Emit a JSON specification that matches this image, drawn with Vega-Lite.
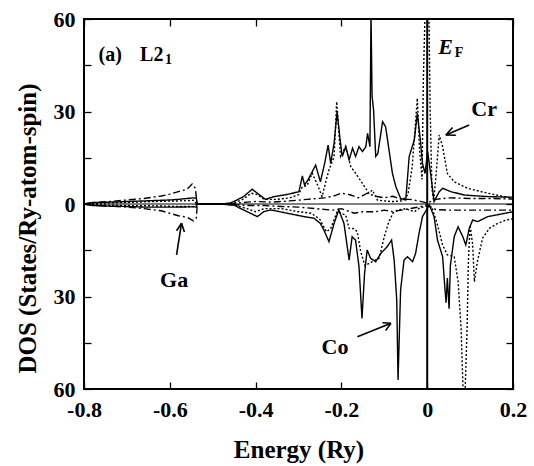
{
  "$schema": "https://vega.github.io/schema/vega-lite/v6.json",
  "width": 429,
  "height": 370,
  "autosize": "none",
  "padding": {"left": 84, "top": 19, "right": 21, "bottom": 77},
  "background": "white",
  "config": {
    "view": {"stroke": "black", "strokeWidth": 2},
    "font": "Liberation Serif",
    "axis": {
      "grid": false, "domain": false, "tickColor": "black", "tickWidth": 1.3,
      "labelFont": "Liberation Serif", "labelFontWeight": "bold", "labelColor": "black",
      "titleFont": "Liberation Serif", "titleFontWeight": "bold", "titleColor": "black",
      "labelFlush": false, "labelOverlap": false
    }
  },
  "datasets": {
    "dos": [
      {"e":"Co","s":"up","x":-0.8,"y":0},{"e":"Co","s":"up","x":-0.78,"y":0.5},{"e":"Co","s":"up","x":-0.74,"y":0.6},{"e":"Co","s":"up","x":-0.7,"y":0.8},{"e":"Co","s":"up","x":-0.66,"y":1.0},{"e":"Co","s":"up","x":-0.62,"y":1.2},{"e":"Co","s":"up","x":-0.6,"y":1.3},{"e":"Co","s":"up","x":-0.58,"y":1.5},{"e":"Co","s":"up","x":-0.56,"y":1.8},{"e":"Co","s":"up","x":-0.545,"y":2.0},{"e":"Co","s":"up","x":-0.538,"y":1.8},{"e":"Co","s":"up","x":-0.536,"y":0},{"e":"Co","s":"up","x":-0.48,"y":0},
      {"e":"Co","s":"up","x":-0.46,"y":0.3},{"e":"Co","s":"up","x":-0.451,"y":0.8},{"e":"Co","s":"up","x":-0.428,"y":2.4},{"e":"Co","s":"up","x":-0.408,"y":4.8},{"e":"Co","s":"up","x":-0.396,"y":3.5},{"e":"Co","s":"up","x":-0.377,"y":1.5},{"e":"Co","s":"up","x":-0.357,"y":2.4},{"e":"Co","s":"up","x":-0.326,"y":3.1},{"e":"Co","s":"up","x":-0.299,"y":4.0},{"e":"Co","s":"up","x":-0.291,"y":9.1},{"e":"Co","s":"up","x":-0.286,"y":6.2},{"e":"Co","s":"up","x":-0.278,"y":7.8},{"e":"Co","s":"up","x":-0.26,"y":12.6},{"e":"Co","s":"up","x":-0.249,"y":7.2},{"e":"Co","s":"up","x":-0.239,"y":13.2},{"e":"Co","s":"up","x":-0.231,"y":19.1},{"e":"Co","s":"up","x":-0.225,"y":13.2},{"e":"Co","s":"up","x":-0.217,"y":19.7},{"e":"Co","s":"up","x":-0.21,"y":29.9},{"e":"Co","s":"up","x":-0.203,"y":20.8},{"e":"Co","s":"up","x":-0.198,"y":15.4},{"e":"Co","s":"up","x":-0.19,"y":18.6},{"e":"Co","s":"up","x":-0.182,"y":14.3},{"e":"Co","s":"up","x":-0.174,"y":18.1},{"e":"Co","s":"up","x":-0.167,"y":15.4},{"e":"Co","s":"up","x":-0.159,"y":18.6},{"e":"Co","s":"up","x":-0.151,"y":17.0},{"e":"Co","s":"up","x":-0.143,"y":18.6},{"e":"Co","s":"up","x":-0.139,"y":22.9},{"e":"Co","s":"up","x":-0.1335,"y":18.6},{"e":"Co","s":"up","x":-0.131,"y":62},{"e":"Co","s":"up","x":-0.1285,"y":35},{"e":"Co","s":"up","x":-0.125,"y":30.5},{"e":"Co","s":"up","x":-0.12,"y":15.4},{"e":"Co","s":"up","x":-0.115,"y":16.4},{"e":"Co","s":"up","x":-0.104,"y":26.7},{"e":"Co","s":"up","x":-0.097,"y":25.1},{"e":"Co","s":"up","x":-0.089,"y":17.5},{"e":"Co","s":"up","x":-0.081,"y":9.9},{"e":"Co","s":"up","x":-0.073,"y":5.6},{"e":"Co","s":"up","x":-0.062,"y":1.8},{"e":"Co","s":"up","x":-0.05,"y":1.3},{"e":"Co","s":"up","x":-0.042,"y":15.4},{"e":"Co","s":"up","x":-0.03,"y":20.8},{"e":"Co","s":"up","x":-0.023,"y":29.4},{"e":"Co","s":"up","x":-0.016,"y":20.8},{"e":"Co","s":"up","x":-0.011,"y":13.2},{"e":"Co","s":"up","x":-0.005,"y":9.9},{"e":"Co","s":"up","x":0.001,"y":17.0},{"e":"Co","s":"up","x":0.008,"y":9.9},{"e":"Co","s":"up","x":0.016,"y":0.8},{"e":"Co","s":"up","x":0.028,"y":4.0},{"e":"Co","s":"up","x":0.036,"y":5.1},{"e":"Co","s":"up","x":0.055,"y":4.0},{"e":"Co","s":"up","x":0.087,"y":2.9},{"e":"Co","s":"up","x":0.141,"y":2.4},{"e":"Co","s":"up","x":0.2,"y":2.2},

      {"e":"Cr","s":"up","x":-0.8,"y":0},{"e":"Cr","s":"up","x":-0.76,"y":0.3},{"e":"Cr","s":"up","x":-0.7,"y":0.5},{"e":"Cr","s":"up","x":-0.64,"y":0.8},{"e":"Cr","s":"up","x":-0.58,"y":1.0},{"e":"Cr","s":"up","x":-0.545,"y":1.2},{"e":"Cr","s":"up","x":-0.537,"y":0},{"e":"Cr","s":"up","x":-0.48,"y":0},{"e":"Cr","s":"up","x":-0.45,"y":0.3},{"e":"Cr","s":"up","x":-0.43,"y":1.5},{"e":"Cr","s":"up","x":-0.41,"y":3.5},{"e":"Cr","s":"up","x":-0.395,"y":3.0},{"e":"Cr","s":"up","x":-0.38,"y":1.5},{"e":"Cr","s":"up","x":-0.35,"y":1.5},{"e":"Cr","s":"up","x":-0.32,"y":2.0},{"e":"Cr","s":"up","x":-0.3,"y":3.0},{"e":"Cr","s":"up","x":-0.291,"y":5.6},{"e":"Cr","s":"up","x":-0.28,"y":6},{"e":"Cr","s":"up","x":-0.268,"y":10},{"e":"Cr","s":"up","x":-0.255,"y":6},{"e":"Cr","s":"up","x":-0.245,"y":2.4},{"e":"Cr","s":"up","x":-0.235,"y":8},{"e":"Cr","s":"up","x":-0.229,"y":11},{"e":"Cr","s":"up","x":-0.217,"y":15.4},{"e":"Cr","s":"up","x":-0.211,"y":33.2},{"e":"Cr","s":"up","x":-0.202,"y":15.4},{"e":"Cr","s":"up","x":-0.19,"y":18.6},{"e":"Cr","s":"up","x":-0.178,"y":12.1},{"e":"Cr","s":"up","x":-0.167,"y":10},{"e":"Cr","s":"up","x":-0.151,"y":6.7},{"e":"Cr","s":"up","x":-0.136,"y":3.5},{"e":"Cr","s":"up","x":-0.128,"y":4.5},{"e":"Cr","s":"up","x":-0.116,"y":1.3},{"e":"Cr","s":"up","x":-0.1,"y":1.0},{"e":"Cr","s":"up","x":-0.08,"y":0.8},{"e":"Cr","s":"up","x":-0.06,"y":1.0},{"e":"Cr","s":"up","x":-0.045,"y":3},{"e":"Cr","s":"up","x":-0.035,"y":12},{"e":"Cr","s":"up","x":-0.028,"y":25},{"e":"Cr","s":"up","x":-0.023,"y":34.3},{"e":"Cr","s":"up","x":-0.018,"y":18},{"e":"Cr","s":"up","x":-0.012,"y":8},{"e":"Cr","s":"up","x":-0.009,"y":40},{"e":"Cr","s":"up","x":-0.005,"y":62},{"e":"Cr","s":"up","x":0.004,"y":62},{"e":"Cr","s":"up","x":0.007,"y":30},{"e":"Cr","s":"up","x":0.011,"y":5},{"e":"Cr","s":"up","x":0.015,"y":1},{"e":"Cr","s":"up","x":0.021,"y":10},{"e":"Cr","s":"up","x":0.028,"y":22.4},{"e":"Cr","s":"up","x":0.036,"y":18.6},{"e":"Cr","s":"up","x":0.047,"y":9.9},{"e":"Cr","s":"up","x":0.063,"y":7.2},{"e":"Cr","s":"up","x":0.094,"y":5.1},{"e":"Cr","s":"up","x":0.141,"y":3.5},{"e":"Cr","s":"up","x":0.2,"y":1.8},

      {"e":"Ga","s":"up","x":-0.8,"y":0},{"e":"Ga","s":"up","x":-0.78,"y":0.4},{"e":"Ga","s":"up","x":-0.74,"y":0.8},{"e":"Ga","s":"up","x":-0.7,"y":1.3},{"e":"Ga","s":"up","x":-0.66,"y":1.8},{"e":"Ga","s":"up","x":-0.62,"y":2.6},{"e":"Ga","s":"up","x":-0.6,"y":3.2},{"e":"Ga","s":"up","x":-0.58,"y":4.0},{"e":"Ga","s":"up","x":-0.56,"y":4.8},{"e":"Ga","s":"up","x":-0.548,"y":6.5},{"e":"Ga","s":"up","x":-0.54,"y":5},{"e":"Ga","s":"up","x":-0.537,"y":0},{"e":"Ga","s":"up","x":-0.48,"y":0},{"e":"Ga","s":"up","x":-0.45,"y":0.2},{"e":"Ga","s":"up","x":-0.42,"y":0.6},{"e":"Ga","s":"up","x":-0.4,"y":0.8},{"e":"Ga","s":"up","x":-0.36,"y":0.6},{"e":"Ga","s":"up","x":-0.32,"y":1.0},{"e":"Ga","s":"up","x":-0.28,"y":1.5},{"e":"Ga","s":"up","x":-0.24,"y":2.0},{"e":"Ga","s":"up","x":-0.22,"y":2.5},{"e":"Ga","s":"up","x":-0.2,"y":3.5},{"e":"Ga","s":"up","x":-0.18,"y":3.0},{"e":"Ga","s":"up","x":-0.16,"y":2.0},{"e":"Ga","s":"up","x":-0.14,"y":3.5},{"e":"Ga","s":"up","x":-0.12,"y":2.5},{"e":"Ga","s":"up","x":-0.1,"y":2.0},{"e":"Ga","s":"up","x":-0.08,"y":2.5},{"e":"Ga","s":"up","x":-0.06,"y":1.5},{"e":"Ga","s":"up","x":-0.04,"y":1.5},{"e":"Ga","s":"up","x":-0.02,"y":1.0},{"e":"Ga","s":"up","x":0,"y":0.3},{"e":"Ga","s":"up","x":0.02,"y":1.5},{"e":"Ga","s":"up","x":0.05,"y":2.0},{"e":"Ga","s":"up","x":0.1,"y":1.8},{"e":"Ga","s":"up","x":0.15,"y":1.8},{"e":"Ga","s":"up","x":0.2,"y":1.6},

      {"e":"Co","s":"dn","x":-0.8,"y":0},{"e":"Co","s":"dn","x":-0.78,"y":-0.5},{"e":"Co","s":"dn","x":-0.74,"y":-0.7},{"e":"Co","s":"dn","x":-0.7,"y":-0.8},{"e":"Co","s":"dn","x":-0.66,"y":-1.0},{"e":"Co","s":"dn","x":-0.62,"y":-1.0},{"e":"Co","s":"dn","x":-0.58,"y":-1.0},{"e":"Co","s":"dn","x":-0.545,"y":-0.9},{"e":"Co","s":"dn","x":-0.538,"y":-1.0},{"e":"Co","s":"dn","x":-0.536,"y":0},{"e":"Co","s":"dn","x":-0.48,"y":0},{"e":"Co","s":"dn","x":-0.46,"y":-0.3},{"e":"Co","s":"dn","x":-0.451,"y":-0.3},{"e":"Co","s":"dn","x":-0.436,"y":-1.4},{"e":"Co","s":"dn","x":-0.412,"y":-3.0},{"e":"Co","s":"dn","x":-0.396,"y":-4.1},{"e":"Co","s":"dn","x":-0.381,"y":-2.5},{"e":"Co","s":"dn","x":-0.365,"y":-1.9},{"e":"Co","s":"dn","x":-0.326,"y":-3.0},{"e":"Co","s":"dn","x":-0.287,"y":-4.1},{"e":"Co","s":"dn","x":-0.264,"y":-4.6},{"e":"Co","s":"dn","x":-0.249,"y":-6.3},{"e":"Co","s":"dn","x":-0.241,"y":-8.4},{"e":"Co","s":"dn","x":-0.229,"y":-12.2},{"e":"Co","s":"dn","x":-0.217,"y":-6.3},{"e":"Co","s":"dn","x":-0.206,"y":-1.9},{"e":"Co","s":"dn","x":-0.194,"y":-6.3},{"e":"Co","s":"dn","x":-0.182,"y":-18.2},{"e":"Co","s":"dn","x":-0.175,"y":-10.6},{"e":"Co","s":"dn","x":-0.167,"y":-11.7},{"e":"Co","s":"dn","x":-0.159,"y":-20.3},{"e":"Co","s":"dn","x":-0.152,"y":-37.1},{"e":"Co","s":"dn","x":-0.146,"y":-22.5},{"e":"Co","s":"dn","x":-0.14,"y":-14.9},{"e":"Co","s":"dn","x":-0.132,"y":-17.6},{"e":"Co","s":"dn","x":-0.12,"y":-18.7},{"e":"Co","s":"dn","x":-0.108,"y":-16.0},{"e":"Co","s":"dn","x":-0.093,"y":-13.8},{"e":"Co","s":"dn","x":-0.083,"y":-11.7},{"e":"Co","s":"dn","x":-0.077,"y":-18.2},{"e":"Co","s":"dn","x":-0.071,"y":-31.1},{"e":"Co","s":"dn","x":-0.068,"y":-57.1},{"e":"Co","s":"dn","x":-0.062,"y":-27.9},{"e":"Co","s":"dn","x":-0.054,"y":-18.2},{"e":"Co","s":"dn","x":-0.046,"y":-17.1},{"e":"Co","s":"dn","x":-0.034,"y":-18.7},{"e":"Co","s":"dn","x":-0.027,"y":-16.0},{"e":"Co","s":"dn","x":-0.019,"y":-9.5},{"e":"Co","s":"dn","x":-0.011,"y":-4.1},{"e":"Co","s":"dn","x":0.005,"y":-0.3},{"e":"Co","s":"dn","x":0.016,"y":-4.1},{"e":"Co","s":"dn","x":0.024,"y":-11.7},{"e":"Co","s":"dn","x":0.036,"y":-17.1},{"e":"Co","s":"dn","x":0.041,"y":-26.8},{"e":"Co","s":"dn","x":0.044,"y":-32},{"e":"Co","s":"dn","x":0.047,"y":-24},{"e":"Co","s":"dn","x":0.051,"y":-34},{"e":"Co","s":"dn","x":0.054,"y":-20},{"e":"Co","s":"dn","x":0.063,"y":-10.6},{"e":"Co","s":"dn","x":0.072,"y":-7.4},{"e":"Co","s":"dn","x":0.083,"y":-10.6},{"e":"Co","s":"dn","x":0.09,"y":-13.3},{"e":"Co","s":"dn","x":0.098,"y":-7.9},{"e":"Co","s":"dn","x":0.106,"y":-5.2},{"e":"Co","s":"dn","x":0.118,"y":-5.7},{"e":"Co","s":"dn","x":0.141,"y":-4.1},{"e":"Co","s":"dn","x":0.2,"y":-2.5},

      {"e":"Cr","s":"dn","x":-0.8,"y":0},{"e":"Cr","s":"dn","x":-0.76,"y":-0.3},{"e":"Cr","s":"dn","x":-0.7,"y":-0.5},{"e":"Cr","s":"dn","x":-0.64,"y":-0.6},{"e":"Cr","s":"dn","x":-0.58,"y":-0.8},{"e":"Cr","s":"dn","x":-0.545,"y":-0.8},{"e":"Cr","s":"dn","x":-0.537,"y":0},{"e":"Cr","s":"dn","x":-0.48,"y":0},{"e":"Cr","s":"dn","x":-0.45,"y":-0.3},{"e":"Cr","s":"dn","x":-0.42,"y":-1.5},{"e":"Cr","s":"dn","x":-0.4,"y":-2.5},{"e":"Cr","s":"dn","x":-0.38,"y":-1.5},{"e":"Cr","s":"dn","x":-0.34,"y":-1.5},{"e":"Cr","s":"dn","x":-0.3,"y":-2.5},{"e":"Cr","s":"dn","x":-0.27,"y":-3},{"e":"Cr","s":"dn","x":-0.25,"y":-5},{"e":"Cr","s":"dn","x":-0.235,"y":-9},{"e":"Cr","s":"dn","x":-0.225,"y":-8},{"e":"Cr","s":"dn","x":-0.21,"y":-2.5},{"e":"Cr","s":"dn","x":-0.19,"y":-3.6},{"e":"Cr","s":"dn","x":-0.182,"y":-7.9},{"e":"Cr","s":"dn","x":-0.17,"y":-8},{"e":"Cr","s":"dn","x":-0.163,"y":-9},{"e":"Cr","s":"dn","x":-0.155,"y":-15.5},{"e":"Cr","s":"dn","x":-0.145,"y":-20},{"e":"Cr","s":"dn","x":-0.128,"y":-18.7},{"e":"Cr","s":"dn","x":-0.112,"y":-17.6},{"e":"Cr","s":"dn","x":-0.101,"y":-11.1},{"e":"Cr","s":"dn","x":-0.09,"y":-6},{"e":"Cr","s":"dn","x":-0.08,"y":-3},{"e":"Cr","s":"dn","x":-0.07,"y":-2},{"e":"Cr","s":"dn","x":-0.05,"y":-1.5},{"e":"Cr","s":"dn","x":-0.03,"y":-2.5},{"e":"Cr","s":"dn","x":-0.02,"y":-1.5},{"e":"Cr","s":"dn","x":-0.01,"y":-1.0},{"e":"Cr","s":"dn","x":0.002,"y":-0.5},{"e":"Cr","s":"dn","x":0.012,"y":-1.4},{"e":"Cr","s":"dn","x":0.024,"y":-6.8},{"e":"Cr","s":"dn","x":0.036,"y":-13.3},{"e":"Cr","s":"dn","x":0.047,"y":-16.5},{"e":"Cr","s":"dn","x":0.063,"y":-17.1},{"e":"Cr","s":"dn","x":0.072,"y":-25.2},{"e":"Cr","s":"dn","x":0.079,"y":-40.3},{"e":"Cr","s":"dn","x":0.084,"y":-62},{"e":"Cr","s":"dn","x":0.088,"y":-62},{"e":"Cr","s":"dn","x":0.093,"y":-40.3},{"e":"Cr","s":"dn","x":0.096,"y":-18.7},{"e":"Cr","s":"dn","x":0.1,"y":-6.8},{"e":"Cr","s":"dn","x":0.106,"y":-13.3},{"e":"Cr","s":"dn","x":0.11,"y":-25.2},{"e":"Cr","s":"dn","x":0.117,"y":-18.7},{"e":"Cr","s":"dn","x":0.129,"y":-11.1},{"e":"Cr","s":"dn","x":0.145,"y":-7.9},{"e":"Cr","s":"dn","x":0.164,"y":-6.3},{"e":"Cr","s":"dn","x":0.184,"y":-5.2},{"e":"Cr","s":"dn","x":0.2,"y":-4.8},

      {"e":"Ga","s":"dn","x":-0.8,"y":0},{"e":"Ga","s":"dn","x":-0.78,"y":-0.4},{"e":"Ga","s":"dn","x":-0.74,"y":-0.7},{"e":"Ga","s":"dn","x":-0.7,"y":-1.0},{"e":"Ga","s":"dn","x":-0.66,"y":-1.5},{"e":"Ga","s":"dn","x":-0.62,"y":-2.2},{"e":"Ga","s":"dn","x":-0.6,"y":-3.0},{"e":"Ga","s":"dn","x":-0.58,"y":-3.8},{"e":"Ga","s":"dn","x":-0.56,"y":-4.3},{"e":"Ga","s":"dn","x":-0.545,"y":-5.5},{"e":"Ga","s":"dn","x":-0.538,"y":-4.5},{"e":"Ga","s":"dn","x":-0.536,"y":0},{"e":"Ga","s":"dn","x":-0.48,"y":0},{"e":"Ga","s":"dn","x":-0.45,"y":-0.2},{"e":"Ga","s":"dn","x":-0.42,"y":-0.5},{"e":"Ga","s":"dn","x":-0.38,"y":-0.5},{"e":"Ga","s":"dn","x":-0.34,"y":-0.8},{"e":"Ga","s":"dn","x":-0.3,"y":-1.0},{"e":"Ga","s":"dn","x":-0.26,"y":-1.5},{"e":"Ga","s":"dn","x":-0.22,"y":-2.0},{"e":"Ga","s":"dn","x":-0.2,"y":-1.5},{"e":"Ga","s":"dn","x":-0.17,"y":-3},{"e":"Ga","s":"dn","x":-0.15,"y":-2.5},{"e":"Ga","s":"dn","x":-0.12,"y":-2.5},{"e":"Ga","s":"dn","x":-0.1,"y":-2.0},{"e":"Ga","s":"dn","x":-0.08,"y":-2.5},{"e":"Ga","s":"dn","x":-0.06,"y":-2.0},{"e":"Ga","s":"dn","x":-0.04,"y":-1.5},{"e":"Ga","s":"dn","x":-0.02,"y":-1.0},{"e":"Ga","s":"dn","x":0,"y":-0.3},{"e":"Ga","s":"dn","x":0.02,"y":-1.8},{"e":"Ga","s":"dn","x":0.05,"y":-2.0},{"e":"Ga","s":"dn","x":0.1,"y":-2.0},{"e":"Ga","s":"dn","x":0.15,"y":-2.0},{"e":"Ga","s":"dn","x":0.2,"y":-2.0}
    ],
    "arrows": [
      {"x":0.0979,"y":25.62,"x2":0.0435,"y2":22.38},{"x":0.0435,"y":22.38,"x2":0.0668,"y2":22.28},{"x":0.0435,"y":22.38,"x2":0.0591,"y2":24.81},
      {"x":-0.5843,"y":-16.54,"x2":-0.5727,"y2":-6.26},{"x":-0.5727,"y":-6.26,"x2":-0.5843,"y2":-8.69},{"x":-0.5727,"y":-6.26,"x2":-0.5659,"y2":-9.05},
      {"x":-0.1626,"y":-43.03,"x2":-0.0845,"y2":-38.69},{"x":-0.0845,"y":-38.69,"x2":-0.1044,"y2":-38.49},{"x":-0.0845,"y":-38.69,"x2":-0.097,"y2":-41.06}
    ]
  },
  "layer": [
    {
      "data": {"name": "dos"},
      "mark": {"type": "line", "color": "black", "strokeWidth": 1.4, "clip": true},
      "encoding": {
        "x": {"field": "x", "type": "quantitative", "scale": {"domain": [-0.8, 0.2], "nice": false, "zero": false},
          "axis": {"orient": "bottom", "values": [-0.8, -0.6, -0.4, -0.2, 0, 0.2], "tickSize": -7, "labelPadding": 27, "labelBaseline": "middle",
            "labelFontSize": 22, "labelExpr": "datum.value == 0 ? '0' : replace(format(datum.value, '.1f'), '\u2212', '-')",
            "title": "Energy (Ry)", "titleFontSize": 25, "titleY": 60, "titleBaseline": "middle"}},
        "y": {"field": "y", "type": "quantitative", "scale": {"domain": [-60, 60], "nice": false},
          "axis": {"orient": "left", "values": [-60, -45, -30, -15, 0, 15, 30, 45, 60], "tickSize": -7, "labelPadding": 16, "labelBaseline": "middle",
            "labelFontSize": 22, "labelExpr": "abs(datum.value) % 30 == 0 ? format(abs(datum.value), 'd') : ''",
            "title": "DOS (States/Ry-atom-spin)", "titleFontSize": 25, "titleX": -57, "titleY": 209, "titleBaseline": "middle"}},
        "strokeDash": {"field": "e", "type": "nominal", "scale": {"domain": ["Co", "Cr", "Ga"], "range": [[1, 0], [2, 2], [7, 3, 2, 3]]}, "legend": null},
        "detail": {"field": "s"}
      }
    },
    {
      "data": {"values": [{"x": -0.8}, {"x": 0.2}]},
      "mark": {"type": "point", "opacity": 0},
      "encoding": {
        "x": {"field": "x", "type": "quantitative", "axis": {"orient": "top", "values": [-0.8, -0.6, -0.4, -0.2, 0, 0.2], "tickSize": -7, "labels": false, "title": null}},
        "y": {"datum": 0, "type": "quantitative", "axis": {"orient": "right", "values": [-60, -45, -30, -15, 0, 15, 30, 45, 60], "tickSize": -7, "labels": false, "title": null}}
      }
    },
    {
      "data": {"values": [{"v": 0}]},
      "mark": {"type": "rule", "color": "black", "strokeWidth": 1.2},
      "encoding": {"y": {"field": "v", "type": "quantitative", "axis": null}}
    },
    {
      "data": {"values": [{"v": 0}]},
      "mark": {"type": "rule", "color": "black", "strokeWidth": 2},
      "encoding": {"x": {"field": "v", "type": "quantitative", "axis": null}}
    },
    {
      "data": {"name": "arrows"},
      "mark": {"type": "rule", "color": "black", "strokeWidth": 1.6},
      "encoding": {
        "x": {"field": "x", "type": "quantitative", "axis": null},
        "y": {"field": "y", "type": "quantitative", "axis": null},
        "x2": {"field": "x2"},
        "y2": {"field": "y2"}
      }
    },
    {
      "data": {"values": [{"t": "Cr", "x": 0.1328, "y": 30.8}, {"t": "Ga", "x": -0.59, "y": -24.6}, {"t": "Co", "x": -0.215, "y": -46.3}]},
      "mark": {"type": "text", "font": "Liberation Serif", "fontWeight": "bold", "fontSize": 22, "baseline": "middle", "align": "center", "color": "black"},
      "encoding": {"x": {"field": "x", "type": "quantitative", "axis": null}, "y": {"field": "y", "type": "quantitative", "axis": null}, "text": {"field": "t"}}
    },
    {
      "data": {"values": [{"t": "(a)", "x": -0.739, "y": 48.3}, {"t": "L2", "x": -0.642, "y": 48.3}]},
      "mark": {"type": "text", "font": "Liberation Serif", "fontWeight": "bold", "fontSize": 20, "baseline": "middle", "align": "center", "color": "black"},
      "encoding": {"x": {"field": "x", "type": "quantitative", "axis": null}, "y": {"field": "y", "type": "quantitative", "axis": null}, "text": {"field": "t"}}
    },
    {
      "data": {"values": [{"t": "1", "x": -0.603, "y": 46.7}]},
      "mark": {"type": "text", "font": "Liberation Serif", "fontWeight": "bold", "fontSize": 14, "baseline": "middle", "align": "center", "color": "black"},
      "encoding": {"x": {"field": "x", "type": "quantitative", "axis": null}, "y": {"field": "y", "type": "quantitative", "axis": null}, "text": {"field": "t"}}
    },
    {
      "data": {"values": [{"t": "E", "x": 0.0431, "y": 51.0}]},
      "mark": {"type": "text", "font": "Liberation Serif", "fontWeight": "bold", "fontStyle": "italic", "fontSize": 22, "baseline": "middle", "align": "center", "color": "black"},
      "encoding": {"x": {"field": "x", "type": "quantitative", "axis": null}, "y": {"field": "y", "type": "quantitative", "axis": null}, "text": {"field": "t"}}
    },
    {
      "data": {"values": [{"t": "F", "x": 0.0741, "y": 48.9}]},
      "mark": {"type": "text", "font": "Liberation Serif", "fontWeight": "bold", "fontSize": 14, "baseline": "middle", "align": "center", "color": "black"},
      "encoding": {"x": {"field": "x", "type": "quantitative", "axis": null}, "y": {"field": "y", "type": "quantitative", "axis": null}, "text": {"field": "t"}}
    }
  ],
  "resolve": {"axis": {"x": "independent", "y": "independent"}}
}
